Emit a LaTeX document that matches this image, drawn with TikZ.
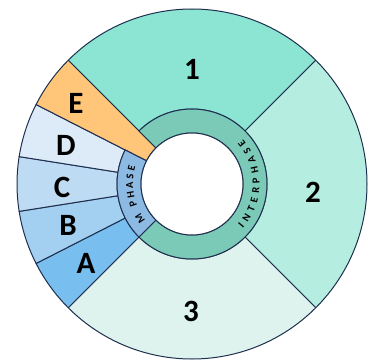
\documentclass[tikz,border=0pt]{standalone}
\usepackage{fontspec}
\setmainfont{Carlito}
\usetikzlibrary{decorations.text}
\definecolor{edge}{HTML}{1F2F4F}
\definecolor{segone}{HTML}{8CE5D3}
\definecolor{segtwo}{HTML}{B5EEE0}
\definecolor{segthree}{HTML}{DEF3EE}
\definecolor{ringI}{HTML}{7BCAB8}
\definecolor{ringM}{HTML}{8DBAE3}
\definecolor{cA}{HTML}{78BEEE}
\definecolor{cB}{HTML}{A3CFF1}
\definecolor{cC}{HTML}{BDDBF3}
\definecolor{cD}{HTML}{DDEBF8}
\definecolor{cE}{HTML}{FFC67A}
\begin{document}
\begin{tikzpicture}[x=1pt,y=1pt,
	sec/.style={draw=edge,line width=1pt,line join=round},
	lbl/.style={font=\fontsize{31}{31}\selectfont\bfseries}]
\useasboundingbox (-192,-177) rectangle (182,184);
% outer sectors
\foreach \a/\b/\ri/\c in {45/135/75/segone,-45/45/75/segtwo,225/315/75/segthree,
	207/225/75/cA,189/207/75/cB,171/189/75/cC,153/171/75/cD,135/153/51/cE}
	\filldraw[sec,fill=\c] (\a:\ri) arc[start angle=\a,end angle=\b,radius=\ri]
		-- (\b:175) arc[start angle=\b,end angle=\a,radius=175] -- cycle;
% phase ring
\filldraw[sec,fill=ringI] (-135:75) arc[start angle=-135,end angle=135,radius=75]
	-- (135:51) arc[start angle=135,end angle=-135,radius=51] -- cycle;
\filldraw[sec,fill=ringM] (153:75) arc[start angle=153,end angle=225,radius=75]
	-- (225:51) arc[start angle=225,end angle=153,radius=51] -- cycle;
\filldraw[sec,fill=white] (0,0) circle[radius=51];
\path[decorate,decoration={text along path,text align={fit to path},
	text={|\fontsize{10.5}{10.5}\selectfont\bfseries|INTERPHASE}}]
	(-41:67.5) arc[start angle=-41,end angle=41,radius=67.5];
\path[decorate,decoration={text along path,text align={fit to path},
	text={|\fontsize{10.5}{10.5}\selectfont\bfseries|M PHASE}}]
	(218:59) arc[start angle=218,end angle=163,radius=59];
% labels
\node[lbl] (one) at (0,115) {1};
\node[lbl] (two) at (121,-8) {2};
\node[lbl] (three) at (-1,-127) {3};
\node[lbl] (lE) at (-116,81) {E};
\node[lbl] (lD) at (-126,39) {D};
\node[lbl] (lC) at (-130,-3) {C};
\node[lbl] (lB) at (-124,-41) {B};
\node[lbl] (lA) at (-106,-79) {A};
\end{tikzpicture}
\end{document}
